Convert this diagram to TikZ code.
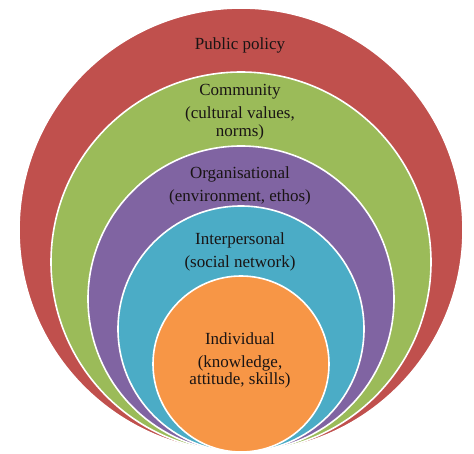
\documentclass[tikz,border=0pt]{standalone}
\usepackage{fontspec}
\setmainfont{Liberation Serif}
\usepackage{xcolor}
\usetikzlibrary{positioning}
\definecolor{ringred}{RGB}{192,80,77}
\definecolor{ringgreen}{RGB}{155,187,89}
\definecolor{ringpurple}{RGB}{128,100,162}
\definecolor{ringcyan}{RGB}{75,172,198}
\definecolor{ringorange}{RGB}{247,150,70}
\definecolor{textdark}{RGB}{25,20,20}

\begin{document}
\begin{tikzpicture}[
    x=1pt, y=-1pt,
    ring/.style={circle, draw=white, line width=1.6pt, inner sep=0pt},
    lbl/.style={align=center, text=textdark, font=\fontsize{17}{17.5}\selectfont},
]
    \useasboundingbox (0,0) rectangle (474,454);

    % nested rings, all touching at the bottom
    \node[ring, fill=ringred,    minimum size=444pt] (policy)   at (241,230) {};
    \node[ring, fill=ringgreen,  minimum size=380pt] (commun)   at (241,262) {};
    \node[ring, fill=ringpurple, minimum size=306pt] (organ)    at (241,299) {};
    \node[ring, fill=ringcyan,   minimum size=246pt] (interp)   at (241,329) {};
    \node[ring, fill=ringorange, minimum size=176pt] (indiv)    at (241,364) {};

    % labels
    \node[lbl] (policytxt) at (240,45.5) {Public policy};
    \node[lbl] (communtxt) at (240,112) {Community\\[5.5pt](cultural values,\\norms)};
    \node[lbl] (organtxt)  at (240,185.5) {Organisational\\[5.5pt](environment, ethos)};
    \node[lbl] (interptxt) at (240,252) {Interpersonal\\[5.5pt](social network)};
    \node[lbl] (indivtxt)  at (240,360.5) {Individual\\[5.5pt](knowledge,\\attitude, skills)};
\end{tikzpicture}
\end{document}
